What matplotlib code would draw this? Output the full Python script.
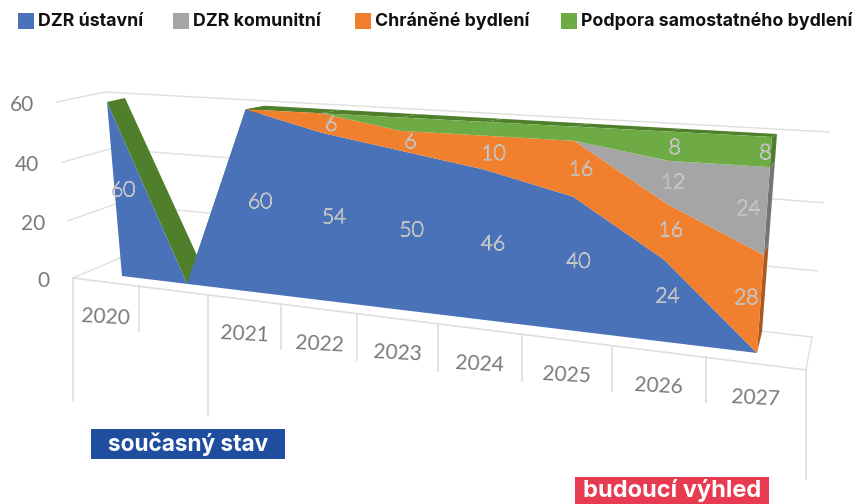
"""Skewed 3D-look stacked area chart, DZR capacity plan 2020-2027."""
import matplotlib
matplotlib.use("Agg")
import matplotlib.pyplot as plt
import matplotlib.patheffects as pe
import numpy as np
from matplotlib.patches import Rectangle
from matplotlib.transforms import Transform

# data: the unnamed slot after 2020 is the gap in the original category axis
years = ["2020", "", "2021", "2022", "2023", "2024", "2025", "2026", "2027"]
dzr_ustavni = [60, 0, 60, 54, 50, 46, 40, 24, 0]
chranene = [0, 0, 0, 6, 6, 10, 16, 16, 28]
dzr_komunitni = [0, 0, 0, 0, 0, 0, 0, 12, 24]
podpora = [0, 0, 0, 0, 4, 4, 4, 8, 8]
y_ticks = [0, 20, 40, 60]

legend_names = ["DZR ústavní", "DZR komunitní", "Chráněné bydlení",
                "Podpora samostatného bydlení"]
legend_colors = ["#4A72B8", "#A5A5A5", "#F07F2E", "#6FAB45"]

BLUE, GRAY, ORANGE, GREEN = legend_colors
TOP_DARK = "#4F7F2B"
SIDE_COLORS = ["#3A5C99", "#A85A20", "#757575", "#4E7D31"]
LINE = "#DFDFDF"
TICK_TEXT = "#7A7A7A"


class PlaneMap(Transform):
    """Projective map taking (category, value) corners to picture pixels."""
    input_dims = 2
    output_dims = 2

    def __init__(self, src, dst):
        super().__init__()
        rows, rhs = [], []
        for (x, y), (u, v) in zip(src, dst):
            rows.append([x, y, 1, 0, 0, 0, -u * x, -u * y])
            rows.append([0, 0, 0, x, y, 1, -v * x, -v * y])
            rhs += [u, v]
        self.h = np.append(np.linalg.solve(np.array(rows, float), rhs), 1).reshape(3, 3)

    def transform_non_affine(self, values):
        pts = np.column_stack([values, np.ones(len(values))]) @ self.h.T
        return pts[:, :2] / pts[:, 2:]


data_box = [(0, 0), (0, 60), (8, 0), (8, 60)]
frame_box = [(-0.5, 0), (-0.5, 60), (8.5, 0), (8.5, 60)]
front = PlaneMap(data_box, [(122, 276), (107, 102), (757, 353), (772, 137)])
back = PlaneMap(data_box, [(138, 264), (125, 98), (762, 332), (777, 134)])
frame_front = PlaneMap(frame_box, [(73, 278), (57, 102), (806, 370), (823, 150)])
frame_back = PlaneMap(frame_box, [(120, 258), (105, 92), (812, 337), (829, 132)])

fig = plt.figure(figsize=(8.61, 5.04), dpi=100)
ax = fig.add_axes([0, 0, 1, 1])
ax.set_xlim(0, 861)
ax.set_ylim(504, 0)
ax.axis("off")
ax.set_autoscale_on(False)

# walls and floor
for v in y_ticks:
    a = frame_front.transform([(-0.5, v)])[0]
    b = frame_back.transform([(-0.5, v), (8.5, v)])
    ax.plot([a[0], b[0][0], b[1][0]], [a[1], b[0][1], b[1][1]],
            color=LINE, lw=1, zorder=1)
    ax.text(a[0] - 23, a[1] + 3, str(v), ha="right", va="center",
            fontsize=15, family="Lato", color=TICK_TEXT)

edges = frame_front.transform([(i - 0.5, 0) for i in range(len(years) + 1)])
ax.plot(edges[:, 0], edges[:, 1], color=LINE, lw=1.2, zorder=1)
corner = frame_back.transform([(8.5, 0)])[0]
ax.plot([edges[-1][0], corner[0]], [edges[-1][1], corner[1]], color=LINE, lw=1, zorder=1)

tick_len = [122, 45, 121, 45, 46, 47, 47, 45, 45, 109]
for (x, y), n in zip(edges, tick_len):
    ax.plot([x, x], [y, y + n], color=LINE, lw=1.3, zorder=1)
for i, year in enumerate(years):
    mid = (edges[i] + edges[i + 1]) / 2
    ax.text(mid[0], mid[1] + 35, year, ha="center", va="center", rotation=-3,
            fontsize=15, family="Lato", color=TICK_TEXT)

# stacked series
cats = np.arange(len(years))
layers = np.array([dzr_ustavni, chranene, dzr_komunitni, podpora], float)
tops = layers.cumsum(axis=0)

# depth faces sit behind the front surface, one quad per segment
top_pts = np.column_stack([cats, tops[-1]])
top_front = front.transform(top_pts)
top_back = back.transform(top_pts)
for i in range(len(cats) - 1):
    quad = np.vstack([top_front[i:i + 2], top_back[i:i + 2][::-1]])
    ax.fill(quad[:, 0], quad[:, 1], color=TOP_DARK, lw=0, zorder=2)
lower = 0
for k, upper in enumerate(tops[:, -1]):
    cap = np.vstack([front.transform([(8, lower), (8, upper)]),
                     back.transform([(8, upper), (8, lower)])])
    ax.fill(cap[:, 0], cap[:, 1], color=SIDE_COLORS[k], lw=0, zorder=2)
    lower = upper

ax.stackplot(cats, layers, colors=[BLUE, ORANGE, GRAY, GREEN],
             transform=front + ax.transData, lw=0, zorder=3)

# data labels sit halfway into the depth of the block; the last column is pulled in
nudge = {(1, 8): -0.17, (2, 8): -0.21, (3, 8): -0.08}
halo = [pe.withStroke(linewidth=0.9, foreground="#D2D2D2")]
for k, row in enumerate(layers):
    for i, val in enumerate(row):
        if val < 6:
            continue
        pos = (i + nudge.get((k, i), 0), tops[k, i] - val / 2)
        x, y = (front.transform([pos])[0] + back.transform([pos])[0]) / 2
        ax.text(x, y + 3.5, f"{val:.0f}", ha="center", va="center", fontsize=15,
                family="Lato", weight="light", color="#777777",
                path_effects=halo, zorder=4)

# legend
legend_x = [18, 173, 355, 561]
for name, color, x in zip(legend_names, legend_colors, legend_x):
    ax.add_patch(Rectangle((x, 13), 16, 16, color=color, lw=0, zorder=5))
    ax.text(x + 20, 21, name, ha="left", va="center", fontsize=12.8,
            family="Inter", weight="bold", color="#111111", zorder=5)

# period tags
ax.add_patch(Rectangle((91, 429), 194, 30, color="#1F4E9E", lw=0, zorder=5))
ax.text(188, 444, "současný stav", ha="center", va="center", fontsize=16.3,
        family="Inter", weight="bold", color="white", zorder=6)
ax.add_patch(Rectangle((575, 477), 194, 27, color="#E83A50", lw=0, zorder=5))
ax.text(672, 491, "budoucí výhled", ha="center", va="center", fontsize=17,
        family="Inter", weight="bold", color="white", zorder=6)

fig.savefig("out.png", dpi=100)
